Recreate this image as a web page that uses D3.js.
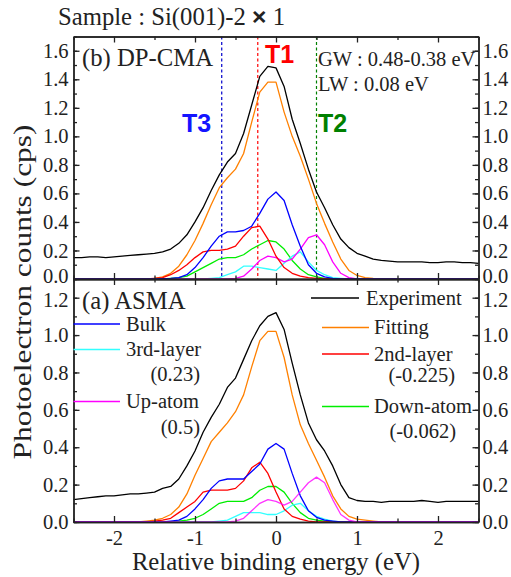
<!DOCTYPE html>
<html><head><meta charset="utf-8">
<script src="https://cdn.jsdelivr.net/npm/d3@7"></script>
<style>body{margin:0;background:#fff}svg{display:block}text{font-family:"Liberation Serif","Times New Roman",serif}</style>
</head><body><svg id="c" width="511" height="577"></svg>
<script>
const energy=[-2.5,-2.4,-2.3,-2.2,-2.1,-2.0,-1.9,-1.8,-1.7,-1.6,-1.5,-1.4,-1.3,-1.2,-1.1,-1.0,-0.9,-0.8,-0.7,-0.6,-0.5,-0.4,-0.3,-0.2,-0.1,0.0,0.1,0.2,0.3,0.4,0.5,0.6,0.7,0.8,0.9,1.0,1.1,1.2,1.3,1.4,1.5,1.6,1.7,1.8,1.9,2.0,2.1,2.2,2.3,2.4,2.5];
// (b) DP-CMA
const bExperiment=[0.15,0.15,0.155,0.155,0.15,0.155,0.16,0.165,0.17,0.175,0.18,0.19,0.21,0.25,0.31,0.40,0.50,0.62,0.73,0.82,0.88,1.02,1.22,1.42,1.49,1.48,1.35,1.12,0.95,0.77,0.61,0.50,0.38,0.28,0.22,0.18,0.16,0.14,0.13,0.125,0.12,0.12,0.12,0.12,0.115,0.115,0.12,0.12,0.115,0.115,0.11];
const bFitting=[0,0,0,0,0,0,0,0,0,0.002,0.005,0.015,0.04,0.09,0.17,0.27,0.39,0.52,0.64,0.71,0.77,0.88,1.10,1.31,1.38,1.38,1.17,1.00,0.86,0.70,0.53,0.39,0.26,0.14,0.06,0.025,0.01,0.005,0.002,0,0,0,0,0,0,0,0,0,0,0,0];
const bBulk=[0,0,0,0,0,0,0,0,0,0,0,0.002,0.005,0.01,0.03,0.08,0.15,0.23,0.30,0.33,0.33,0.34,0.37,0.46,0.56,0.61,0.55,0.38,0.23,0.10,0.04,0.015,0.005,0,0,0,0,0,0,0,0,0,0,0,0,0,0,0,0,0,0];
const b2nd=[0,0,0,0,0,0,0,0,0,0,0.005,0.01,0.03,0.06,0.10,0.15,0.19,0.20,0.20,0.21,0.23,0.30,0.36,0.37,0.28,0.16,0.08,0.04,0.02,0.01,0.005,0,0,0,0,0,0,0,0,0,0,0,0,0,0,0,0,0,0,0,0];
const bDown=[0,0,0,0,0,0,0,0,0,0,0,0,0.005,0.01,0.02,0.05,0.08,0.11,0.14,0.15,0.15,0.17,0.21,0.24,0.27,0.26,0.21,0.13,0.07,0.03,0.015,0.005,0,0,0,0,0,0,0,0,0,0,0,0,0,0,0,0,0,0,0];
const b3rd=[0,0,0,0,0,0,0,0,0,0,0,0,0,0,0,0,0,0.005,0.01,0.03,0.05,0.09,0.09,0.08,0.07,0.06,0.11,0.16,0.19,0.12,0.06,0.03,0.01,0.005,0,0,0,0,0,0,0,0,0,0,0,0,0,0,0,0,0];
const bUp=[0,0,0,0,0,0,0,0,0,0,0,0,0,0,0,0,0,0,0,0,0.005,0.02,0.07,0.13,0.16,0.15,0.12,0.14,0.21,0.29,0.31,0.24,0.12,0.04,0.01,0,0,0,0,0,0,0,0,0,0,0,0,0,0,0,0];
// (a) ASMA
const aExperiment=[0.12,0.125,0.13,0.135,0.14,0.14,0.145,0.15,0.15,0.155,0.16,0.18,0.19,0.23,0.30,0.38,0.48,0.56,0.63,0.72,0.77,0.87,0.97,1.05,1.10,1.12,1.03,0.85,0.68,0.53,0.44,0.38,0.30,0.20,0.13,0.115,0.11,0.11,0.105,0.11,0.11,0.11,0.11,0.115,0.11,0.105,0.11,0.11,0.11,0.11,0.11];
const aFitting=[0,0,0,0,0,0,0,0,0,0.005,0.01,0.02,0.04,0.08,0.15,0.25,0.34,0.43,0.48,0.53,0.59,0.68,0.83,0.97,1.02,1.02,0.88,0.68,0.52,0.42,0.33,0.24,0.14,0.07,0.03,0.015,0.01,0.005,0,0,0,0,0,0,0,0,0,0,0,0,0];
const aBulk=[0,0,0,0,0,0,0,0,0,0,0,0,0.005,0.01,0.03,0.07,0.12,0.18,0.22,0.23,0.23,0.23,0.27,0.31,0.39,0.42,0.39,0.26,0.14,0.06,0.025,0.01,0.005,0,0,0,0,0,0,0,0,0,0,0,0,0,0,0,0,0,0];
const a2nd=[0,0,0,0,0,0,0,0,0,0,0.005,0.01,0.02,0.05,0.08,0.11,0.16,0.17,0.17,0.17,0.18,0.22,0.29,0.32,0.26,0.16,0.07,0.03,0.015,0.005,0,0,0,0,0,0,0,0,0,0,0,0,0,0,0,0,0,0,0,0,0];
const aDown=[0,0,0,0,0,0,0,0,0,0,0,0,0,0.005,0.01,0.02,0.04,0.07,0.10,0.11,0.11,0.11,0.13,0.17,0.19,0.19,0.16,0.10,0.05,0.02,0.01,0.005,0,0,0,0,0,0,0,0,0,0,0,0,0,0,0,0,0,0,0];
const a3rd=[0,0,0,0,0,0,0,0,0,0,0,0,0,0,0,0,0,0,0.005,0.01,0.03,0.05,0.05,0.05,0.04,0.04,0.06,0.09,0.10,0.06,0.03,0.015,0.005,0,0,0,0,0,0,0,0,0,0,0,0,0,0,0,0,0,0];
const aUp=[0,0,0,0,0,0,0,0,0,0,0,0,0,0,0,0,0,0,0,0,0.005,0.02,0.06,0.10,0.12,0.11,0.09,0.11,0.16,0.21,0.24,0.21,0.12,0.04,0.01,0,0,0,0,0,0,0,0,0,0,0,0,0,0,0,0];

const xTicks=[-2,-1,0,1,2];
const xMinor=[-2.5,-1.5,-0.5,0.5,1.5,2.5];
const yTicksTop=[0,0.2,0.4,0.6,0.8,1.0,1.2,1.4,1.6];
const yTicksBot=[0,0.2,0.4,0.6,0.8,1.0,1.2];
const markerLines=[{e:-0.225,color:"#ff0000",label:"T1",lx:265,ly:63,tc:"#ff0000"},{e:0.5,color:"#008000",label:"T2",lx:318,ly:132,tc:"#008000"},{e:-0.67,color:"#0000cc",label:"T3",lx:182,ly:132,tc:"#1414ff"}];
const colors={exp:"#000000",fit:"#ff8000",bulk:"#0000ff",l3:"#33ffff",l2:"#ff0000",up:"#ff00ff",down:"#00ee00"};

const svg=d3.select("#c");
svg.append("rect").attr("width",511).attr("height",577).attr("fill","#fff");
const L=73.5,R=478.5;
const x=d3.scaleLinear([-2.5,2.5],[L,R]);
const yT=d3.scaleLinear([0,1.7],[279,36.5]);
const yB=d3.scaleLinear([0,1.3],[522,279]);
const fmt=d3.format(".1f");

function axes(y,top,bot,ticks,showX,shiftVal,shift){
  const maxV=y.domain()[1];
  const minor=d3.range(0,maxV+0.001,0.1).map(v=>+v.toFixed(1));
  const g=svg.append("g");
  g.append("g").attr("transform",`translate(${L},0)`).call(d3.axisLeft(y).tickValues(ticks).tickFormat(fmt).tickSizeInner(-6).tickSizeOuter(0).tickPadding(5));
  g.append("g").attr("transform",`translate(${L},0)`).call(d3.axisLeft(y).tickValues(minor).tickFormat("").tickSizeInner(-3.5).tickSizeOuter(0));
  g.append("g").attr("transform",`translate(${R},0)`).call(d3.axisRight(y).tickValues(ticks).tickFormat(fmt).tickSizeInner(-6).tickSizeOuter(0).tickPadding(4));
  g.append("g").attr("transform",`translate(${R},0)`).call(d3.axisRight(y).tickValues(minor).tickFormat("").tickSizeInner(-3.5).tickSizeOuter(0));
  g.append("g").attr("transform",`translate(0,${bot})`).call(d3.axisBottom(x).tickValues(xTicks).tickFormat(showX?(d=>String(d)):"").tickSizeInner(-6).tickSizeOuter(0).tickPadding(8));
  g.append("g").attr("transform",`translate(0,${bot})`).call(d3.axisBottom(x).tickValues(xMinor).tickFormat("").tickSizeInner(-3.5).tickSizeOuter(0));
  g.append("g").attr("transform",`translate(0,${top})`).call(d3.axisTop(x).tickValues(xTicks).tickFormat("").tickSizeInner(-6).tickSizeOuter(0));
  g.append("g").attr("transform",`translate(0,${top})`).call(d3.axisTop(x).tickValues(xMinor).tickFormat("").tickSizeInner(-3.5).tickSizeOuter(0));
  g.selectAll("g").attr("font-size",null).attr("font-family",null);
  g.selectAll("text").style("font-family","Liberation Serif").style("font-size","20.5px").attr("fill","#222");
  g.selectAll(".tick").filter(d=>d===shiftVal).select("text").attr("y",shift);
  g.selectAll("line").attr("stroke","#222").attr("stroke-width",1.3);
  g.selectAll(".domain").attr("stroke","#222").attr("stroke-width",1.4);
}

function curves(y,series){
  const line=d3.line().x((d,i)=>x(energy[i])).y(d=>y(d));
  series.forEach(s=>{
    svg.append("path").datum(s.v).attr("d",line).attr("fill","none").attr("stroke",s.c).attr("stroke-opacity",s.o||1).attr("stroke-width",1.3).attr("stroke-linejoin","round");
  });
}

markerLines.forEach(m=>{
  svg.append("line").attr("x1",x(m.e)).attr("x2",x(m.e)).attr("y1",yT(1.7)).attr("y2",yT(0)).attr("stroke",m.color).attr("stroke-width",1.2).attr("stroke-dasharray","3,2.5");
});
curves(yT,[{v:bExperiment,c:colors.exp},{v:bFitting,c:colors.fit},{v:bDown,c:colors.down},{v:b3rd,c:colors.l3},{v:bUp,c:colors.up},{v:b2nd,c:colors.l2},{v:bBulk,c:colors.bulk}]);
curves(yB,[{v:aExperiment,c:colors.exp},{v:aFitting,c:colors.fit},{v:aDown,c:colors.down},{v:a3rd,c:colors.l3},{v:a2nd,c:colors.l2},{v:aBulk,c:colors.bulk},{v:aUp,c:colors.up,o:0.8}]);

axes(yT,36.5,279,yTicksTop,false,0,-3);
axes(yB,279,522,yTicksBot,true,1.2,2);

markerLines.forEach(m=>{
  svg.append("text").attr("x",m.lx).attr("y",m.ly).attr("fill",m.tc).style("font-family","Liberation Sans").attr("font-weight","bold").attr("font-size",25).text(m.label);
});

const t=(xx,yy,s,size,anchor)=>svg.append("text").attr("x",xx).attr("y",yy).attr("font-size",size).attr("text-anchor",anchor||"start").attr("fill","#222").text(s);
const title=svg.append("text").attr("x",58).attr("y",25).attr("font-size",24.7).attr("fill","#222");
title.append("tspan").text("Sample : Si(001)-2 ");
title.append("tspan").style("font-family","Liberation Sans").attr("font-weight","bold").text("×");
title.append("tspan").text(" 1");
t(82,66,"(b) DP-CMA",24.7);
t(318,66,"GW : 0.48-0.38 eV",20.5);
t(318,91,"LW : 0.08 eV",20.5);
t(82,309,"(a) ASMA",24.7);

const legendLeft=[{name:"Bulk",c:colors.bulk,y:324,x1:73.5,x2:120,tx:126},{name:"3rd-layer",c:colors.l3,y:349.5,x1:73.5,x2:120,tx:126},{name:"Up-atom",c:colors.up,y:401.5,x1:73.5,x2:120,tx:126}];
const legendRight=[{name:"Experiment",c:colors.exp,y:298,x1:311,x2:359,tx:366},{name:"Fitting",c:colors.fit,y:327.5,x1:322,x2:369,tx:374},{name:"2nd-layer",c:colors.l2,y:354,x1:322,x2:369,tx:374},{name:"Down-atom",c:colors.down,y:406.5,x1:322,x2:369,tx:374}];
[...legendLeft,...legendRight].forEach(d=>{
  svg.append("line").attr("x1",d.x1).attr("x2",d.x2).attr("y1",d.y).attr("y2",d.y).attr("stroke",d.c).attr("stroke-width",1.3);
  t(d.tx,d.y+6.5,d.name,20.5);
});
t(200,381,"(0.23)",20.5,"end");
t(200,434,"(0.5)",20.5,"end");
t(455,382,"(-0.225)",20.5,"end");
t(456,438,"(-0.062)",20.5,"end");

t(276,570,"Relative binding energy (eV)",24.7,"middle");
svg.append("text").attr("transform","translate(31,292) rotate(-90)").attr("text-anchor","middle").attr("font-size",24.7).attr("textLength",335).attr("lengthAdjust","spacingAndGlyphs").attr("fill","#222").text("Photoelectron counts (cps)");
</script></body></html>
